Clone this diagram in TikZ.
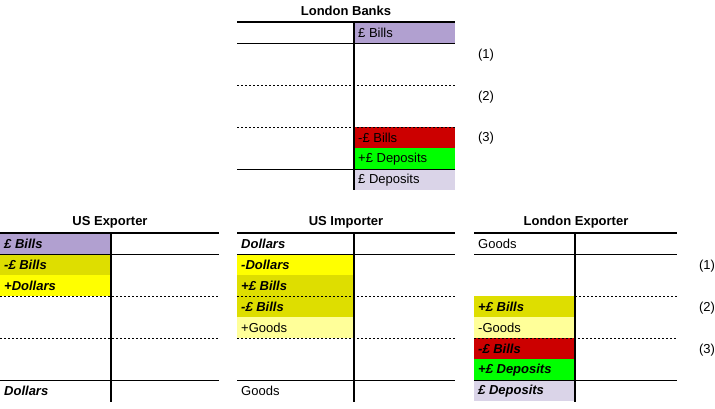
\documentclass[tikz,border=0pt]{standalone}
\usepackage{fontspec}
\setmainfont{Liberation Sans}
\definecolor{lav}{HTML}{B1A0D0}
\definecolor{lightlav}{HTML}{DAD4E8}
\definecolor{dkyel}{HTML}{DEDE00}
\definecolor{yel}{HTML}{FFFF00}
\definecolor{ltyel}{HTML}{FFFF99}
\definecolor{red2}{HTML}{CC0000}
\definecolor{grn}{HTML}{00FF00}
\begin{document}
\begin{tikzpicture}[x=1pt,y=-1pt,
  every node/.style={font=\fontsize{13}{15}\selectfont},
  ttl/.style={font=\fontsize{13}{15}\selectfont\bfseries,anchor=center,inner sep=0},
  txt/.style={anchor=west,inner sep=0},
  bi/.style={txt,font=\fontsize{13}{15}\selectfont\bfseries\itshape},
  num/.style={anchor=center,inner sep=0},
  toprule/.style={line width=2pt},
  vrule/.style={line width=2pt},
  rule/.style={line width=0.9pt},
  dots/.style={line width=0.9pt,dash pattern=on 2pt off 2pt}]
\useasboundingbox (0,0) rectangle (715,408);
% ---------------- London Banks ----------------
\fill[lav] (354,22) rectangle (455,43);
\fill[red2] (354,127) rectangle (455,148);
\fill[grn] (354,148) rectangle (455,169);
\fill[lightlav] (354,169) rectangle (455,190);
\node[ttl] (lbt) at (346,11) {London Banks};
\draw[toprule] (237,22) -- (455,22);
\draw[rule] (237,43) -- (455,43);
\draw[dots] (237,85) -- (455,85);
\draw[dots] (237,127) -- (455,127);
\draw[rule] (237,169) -- (455,169);
\draw[vrule] (354,21) -- (354,190);
\node[txt] (lb1) at (358,33) {£ Bills};
\node[txt] (lb2) at (358,138) {-£ Bills};
\node[txt] (lb3) at (358,159) {+£ Deposits};
\node[txt] (lb4) at (358,180) {£ Deposits};
\node[num] (ta1) at (486,55) {(1)};
\node[num] (ta2) at (486,97) {(2)};
\node[num] (ta3) at (486,138) {(3)};
% ---------------- US Exporter ----------------
\fill[lav] (0,233) rectangle (111,254);
\fill[dkyel] (0,254) rectangle (111,275);
\fill[yel] (0,275) rectangle (111,296);
\node[ttl] (uet) at (110,222) {US Exporter};
\draw[toprule] (0,233) -- (219,233);
\draw[rule] (0,254) -- (219,254);
\draw[dots] (0,296) -- (219,296);
\draw[dots] (0,338) -- (219,338);
\draw[rule] (0,380) -- (219,380);
\draw[vrule] (111,232) -- (111,402);
\node[bi] (ue1) at (4,244) {£ Bills};
\node[bi] (ue2) at (4,265) {-£ Bills};
\node[bi] (ue3) at (4,286) {+Dollars};
\node[bi] (ue4) at (4,391) {Dollars};
% ---------------- US Importer ----------------
\fill[yel] (237,254) rectangle (354,275);
\fill[dkyel] (237,275) rectangle (354,317);
\fill[ltyel] (237,317) rectangle (354,338);
\node[ttl] (uit) at (346,222) {US Importer};
\draw[toprule] (237,233) -- (455,233);
\draw[rule] (237,254) -- (455,254);
\draw[dots] (237,296) -- (455,296);
\draw[dots] (237,338) -- (455,338);
\draw[rule] (237,380) -- (455,380);
\draw[vrule] (354,232) -- (354,402);
\node[bi] (ui1) at (241,244) {Dollars};
\node[bi] (ui2) at (241,265) {-Dollars};
\node[bi] (ui3) at (241,286) {+£ Bills};
\node[bi] (ui4) at (241,307) {-£ Bills};
\node[txt] (ui5) at (241,328) {+Goods};
\node[txt] (ui6) at (241,391) {Goods};
% ---------------- London Exporter ----------------
\fill[dkyel] (474,296) rectangle (575,317);
\fill[ltyel] (474,317) rectangle (575,338);
\fill[red2] (474,338) rectangle (575,359);
\fill[grn] (474,359) rectangle (575,380);
\fill[lightlav] (474,380) rectangle (575,401);
\node[ttl] (let) at (576,222) {London Exporter};
\draw[toprule] (474,233) -- (677,233);
\draw[rule] (474,254) -- (677,254);
\draw[dots] (575,296) -- (677,296);
\draw[dots] (474,338) -- (677,338);
\draw[rule] (474,380) -- (677,380);
\draw[vrule] (575,232) -- (575,402);
\node[txt] (le1) at (478,244) {Goods};
\node[bi] (le2) at (478,307) {+£ Bills};
\node[txt] (le3) at (478,328) {-Goods};
\node[bi] (le4) at (478,349) {-£ Bills};
\node[bi] (le5) at (478,370) {+£ Deposits};
\node[bi] (le6) at (478,391) {£ Deposits};
\node[num] (tb1) at (707,266) {(1)};
\node[num] (tb2) at (707,308) {(2)};
\node[num] (tb3) at (707,350) {(3)};
\end{tikzpicture}
\end{document}
